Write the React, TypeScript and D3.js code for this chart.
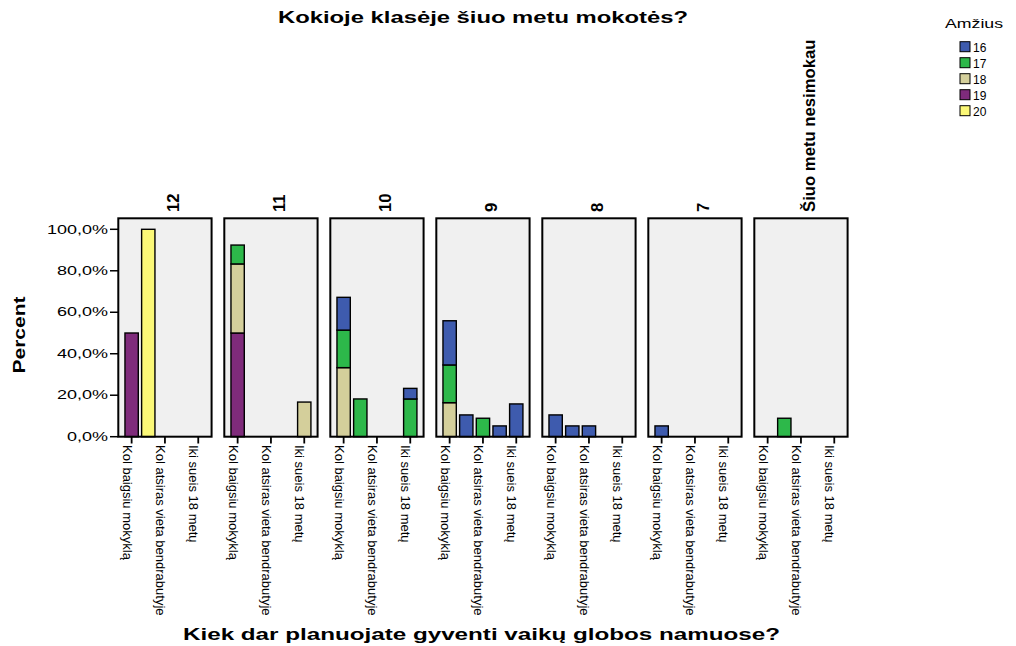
import React from "react";
import * as d3 from "d3";

const panels = ["12", "11", "10", "9", "8", "7", "Šiuo metu nesimokau"];
const categories = ["Kol baigsiu mokyklą", "", "Kol atsiras vieta bendrabutyje", "", "Iki sueis 18 metų"];
const ages = ["16", "17", "18", "19", "20"];
const yTicks = [0, 20, 40, 60, 80, 100];

// values [panel][category], percent
const age16 = [
  [0, 0, 0, 0, 0],
  [0, 0, 0, 0, 0],
  [15.8, 0, 0, 0, 5.1],
  [21.3, 10.5, 0, 5.2, 15.8],
  [10.5, 5.2, 5.2, 0, 0],
  [5.2, 0, 0, 0, 0],
  [0, 0, 0, 0, 0],
];
const age17 = [
  [0, 0, 0, 0, 0],
  [9.1, 0, 0, 0, 0],
  [18.1, 18.2, 0, 0, 18.2],
  [18.2, 0, 8.9, 0, 0],
  [0, 0, 0, 0, 0],
  [0, 0, 0, 0, 0],
  [0, 8.9, 0, 0, 0],
];
const age18 = [
  [0, 0, 0, 0, 0],
  [33.3, 0, 0, 0, 16.7],
  [33.3, 0, 0, 0, 0],
  [16.4, 0, 0, 0, 0],
  [0, 0, 0, 0, 0],
  [0, 0, 0, 0, 0],
  [0, 0, 0, 0, 0],
];
const age19 = [
  [50, 0, 0, 0, 0],
  [50, 0, 0, 0, 0],
  [0, 0, 0, 0, 0],
  [0, 0, 0, 0, 0],
  [0, 0, 0, 0, 0],
  [0, 0, 0, 0, 0],
  [0, 0, 0, 0, 0],
];
const age20 = [
  [0, 100, 0, 0, 0],
  [0, 0, 0, 0, 0],
  [0, 0, 0, 0, 0],
  [0, 0, 0, 0, 0],
  [0, 0, 0, 0, 0],
  [0, 0, 0, 0, 0],
  [0, 0, 0, 0, 0],
];

const seriesByAge: Record<string, number[][]> = {
  "16": age16,
  "17": age17,
  "18": age18,
  "19": age19,
  "20": age20,
};
const colorByAge: Record<string, string> = {
  "16": "#3E5BAE",
  "17": "#2DB84A",
  "18": "#D4CF9B",
  "19": "#7F2B7B",
  "20": "#FBF877",
};
const stackKeys = ["20", "19", "18", "17", "16"];

const FONT = "'Liberation Sans', Arial, Helvetica, sans-serif";

export default function App() {
  const W = 1016;
  const H = 646;
  const y = d3.scaleLinear().domain([0, 100]).range([436.7, 229.3]);
  const yTop = y(105.3);
  const yBottom = y(0);
  const px = d3.scaleBand<string>().domain(panels).range([118.3, 847.6]).paddingInner(0.12);
  const bw = px.bandwidth();
  const cx = d3
    .scaleBand<number>()
    .domain(d3.range(categories.length))
    .range([0, bw])
    .paddingInner(0.2)
    .paddingOuter(0.4);

  const stack = d3.stack<any>().keys(stackKeys);

  return (
    <svg
      width={W}
      height={H}
      style={{ position: "absolute", left: 0, top: 0, background: "#fff" }}
      fontFamily={FONT}
    >
      {/* Title */}
      <text x={483} y={23} textAnchor="middle" fontSize={16} fontWeight="bold" textLength={410} lengthAdjust="spacingAndGlyphs">
        Kokioje klasėje šiuo metu mokotės?
      </text>
      {/* X title */}
      <text x={481.5} y={640} textAnchor="middle" fontSize={16} fontWeight="bold" textLength={597} lengthAdjust="spacingAndGlyphs">
        Kiek dar planuojate gyventi vaikų globos namuose?
      </text>
      {/* Y title */}
      <text
        transform={`translate(25,335) rotate(-90)`}
        textAnchor="middle"
        fontSize={17}
        fontWeight="bold"
        textLength={77}
        lengthAdjust="spacingAndGlyphs"
      >
        Percent
      </text>

      {/* Y ticks */}
      {yTicks.map((t) => (
        <g key={t}>
          <line x1={110} x2={px(panels[0])!} y1={y(t)} y2={y(t)} stroke="#000" strokeWidth={1.5} />
          <text
            transform={`translate(108,${y(t)}) scale(1.5,1)`}
            textAnchor="end"
            dy="0.35em"
            fontSize={12}
          >
            {`${t},0%`}
          </text>
        </g>
      ))}

      {panels.map((p, pi) => {
        const x0 = px(p)!;
        const rows = categories.map((_, ci) => {
          const r: any = { ci };
          ages.forEach((a) => (r[a] = seriesByAge[a][pi][ci]));
          return r;
        });
        const stacked = stack(rows);
        return (
          <g key={p}>
            <rect x={x0} y={yTop} width={bw} height={yBottom - yTop} fill="#F0F0F0" />
            {stacked.map((s) =>
              s.map((d, ci) => {
                const v = d[1] - d[0];
                if (v <= 0) return null;
                return (
                  <rect
                    key={s.key + "-" + ci}
                    x={x0 + cx(ci)!}
                    y={y(d[1])}
                    width={cx.bandwidth()}
                    height={y(d[0]) - y(d[1])}
                    fill={colorByAge[s.key]}
                    stroke="#000"
                    strokeWidth={1.4}
                  />
                );
              })
            )}
            <rect x={x0} y={yTop} width={bw} height={yBottom - yTop} fill="none" stroke="#000" strokeWidth={2} />
            {/* panel label */}
            <text
              transform={`translate(${x0 + bw / 2 + 14},212) rotate(-90)`}
              textAnchor="start"
              fontSize={16.7}
              fontWeight="bold"
            >
              {p}
            </text>
            {/* x ticks and labels */}
            {categories.map((c, ci) => {
              if (!c) return null;
              const tx = x0 + cx(ci)! + cx.bandwidth() / 2;
              return (
                <g key={ci}>
                  <line x1={tx} x2={tx} y1={yBottom} y2={443.5} stroke="#000" strokeWidth={1.8} />
                  <text transform={`translate(${tx},445) rotate(90)`} y={9} fontSize={13}>
                    {c}
                  </text>
                </g>
              );
            })}
          </g>
        );
      })}

      {/* Legend */}
      <text x={945} y={28.3} fontSize={13} textLength={58} lengthAdjust="spacingAndGlyphs">
        Amžius
      </text>
      {ages.map((a, i) => (
        <g key={a}>
          <rect x={960} y={41.7 + i * 16} width={10} height={10} fill={colorByAge[a]} stroke="#000" strokeWidth={1} />
          <text x={973} y={41.7 + i * 16 + 9.8} fontSize={12}>
            {a}
          </text>
        </g>
      ))}
    </svg>
  );
}
